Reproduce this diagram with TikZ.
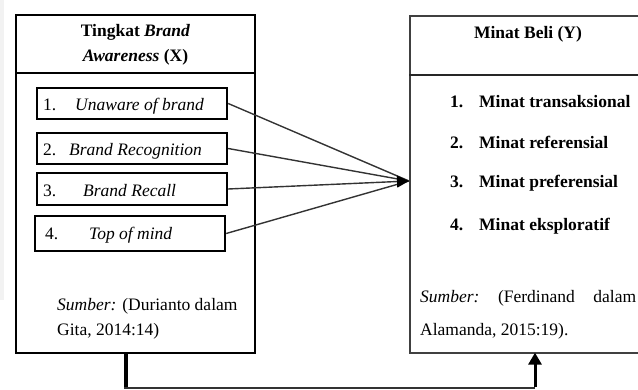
\documentclass[tikz,border=0pt]{standalone}
\usepackage{fontspec}
\setmainfont{Liberation Serif}
\usetikzlibrary{arrows.meta}
\tikzset{
  bigbox/.style={draw, line width=1.6pt, inner sep=0pt},
  itembox/.style={draw, line width=2.4pt, inner sep=0pt, minimum height=31pt},
  txt/.style={inner sep=0pt, font=\fontsize{17.5}{21}\selectfont},
  btxt/.style={txt, font=\fontsize{17.5}{21}\selectfont\bfseries},
  link/.style={draw=black!80, line width=1.4pt},
}
\begin{document}
\begin{tikzpicture}[x=1pt,y=-1pt]
\useasboundingbox (0,0) rectangle (638,390);
\fill[black!5] (0,0) rectangle (4,300);
% left box
\node[bigbox, minimum width=239pt, minimum height=338pt] (L) at (135.5,184) {};
\draw[line width=1.2pt] (L.west |- 0,73) -- (L.east |- 0,73);
\node[btxt, anchor=base] (lt1) at (135.5,37) {Tingkat \textit{Brand}};
\node[btxt, anchor=base] (lt2) at (135.5,62) {\textit{Awareness} (X)};
% item boxes
\node[itembox, minimum width=190pt] (b1) at (132,103.5) {};
\node[itembox, minimum width=190pt] (b2) at (132,148.5) {};
\node[itembox, minimum width=190pt, minimum height=32pt] (b3) at (132,189) {};
\node[itembox, minimum width=190pt, minimum height=35pt] (b4) at (130,233.5) {};
\node[txt, anchor=base west] (n1) at (43,111) {1.};
\node[txt, anchor=base west] (t1) at (75,111) {\textit{Unaware of brand}};
\node[txt, anchor=base west] (n2) at (43,156) {2.};
\node[txt, anchor=base west] (t2) at (69,156) {\textit{Brand Recognition}};
\node[txt, anchor=base west] (n3) at (43,197) {3.};
\node[txt, anchor=base west] (t3) at (83,197) {\textit{Brand Recall}};
\node[txt, anchor=base west] (n4) at (45,240) {4.};
\node[txt, anchor=base west] (t4) at (89,240) {\textit{Top of mind}};
\node[txt, anchor=base west] (ls1) at (57,311) {\textit{Sumber:} (Durianto dalam};
\node[txt, anchor=base west] (ls2) at (57,336) {Gita, 2014:14)};
% right box
\node[bigbox, draw=black!75, line width=1.3pt, minimum width=236pt, minimum height=337pt] (R) at (528,184.5) {};
\draw[black!85, line width=1.2pt] (R.west |- 0,75) -- (R.east |- 0,75);
\node[btxt, anchor=base] (rt) at (528,39) {Minat Beli (Y)};
\node[btxt, anchor=base west] (m1n) at (450,108) {1.};
\node[btxt, anchor=base west] (m1) at (479,108) {Minat transaksional};
\node[btxt, anchor=base west] (m2n) at (450,149) {2.};
\node[btxt, anchor=base west] (m2) at (479,149) {Minat referensial};
\node[btxt, anchor=base west] (m3n) at (450,188) {3.};
\node[btxt, anchor=base west] (m3) at (479,188) {Minat preferensial};
\node[btxt, anchor=base west] (m4n) at (450,231) {4.};
\node[btxt, anchor=base west] (m4) at (479,231) {Minat eksploratif};
\node[txt, anchor=base west] (rs1) at (420,303) {\hbox to 216pt{\textit{Sumber:}\hfill(Ferdinand\hfill dalam}};
\node[txt, anchor=base west] (rs2) at (420,336) {Alamanda, 2015:19).};
% connectors
\coordinate (T) at (409,181);
\draw[link] (b1.east) -- (T);
\draw[link] (b2.east) -- (T);
\draw[link] (b4.east) -- (T);
\draw[link, -{Triangle[length=12pt,width=12pt,fill=black,color=black]}] (b3.east) -- (T);
\coordinate (c1) at (126,388);
\coordinate (c2) at (535,388);
\draw[line width=3.2pt] ([xshift=-9.5pt]L.south) -- ([yshift=1pt]c1);
\draw[black!80, line width=1.6pt] ([xshift=-1.6pt]c1) -- (c2);
\draw[line width=3pt, -{Triangle[length=12pt,width=13pt]}] ([yshift=0.8pt]c2) -- ([xshift=7pt,yshift=1pt]R.south);
\end{tikzpicture}
\end{document}
